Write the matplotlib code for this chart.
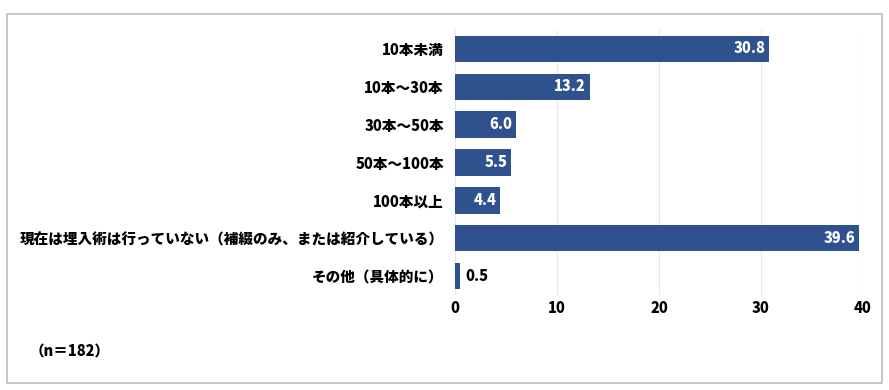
import matplotlib.pyplot as plt
from matplotlib.patches import Rectangle

plt.rcParams['font.family'] = ['Noto Sans CJK JP', 'DejaVu Sans']

categories = ['10本未満', '10本～30本', '30本～50本', '50本～100本', '100本以上',
              '現在は埋入術は行っていない（補綴のみ、または紹介している）', 'その他（具体的に）']
values = [30.8, 13.2, 6.0, 5.5, 4.4, 39.6, 0.5]
xticks = [0, 10, 20, 30, 40]
note = '（n＝182）'

BAR_COLOR = '#2F528F'
W = 'heavy'

fig = plt.figure(figsize=(8.89, 3.9), dpi=100)
ax = fig.add_axes([0.5118, 0.2436, 0.4590, 0.6794])

y = list(range(len(categories)))
ax.barh(y, values, height=0.7, color=BAR_COLOR)
ax.set_ylim(len(categories) - 0.5, -0.5)
ax.set_xlim(0, 40)

for yi, v in zip(y, values):
    if v >= 2:
        ax.text(v - 0.35, yi, f'{v:.1f}', ha='right', va='center',
                color='white', fontsize=10.5, fontweight=W)
    else:
        ax.text(v + 0.5, yi, f'{v:.1f}', ha='left', va='center',
                color='black', fontsize=10.5, fontweight=W)

ax.set_yticks(y)
ax.set_yticklabels(categories, fontsize=10.5, fontweight=W)
ax.set_xticks(xticks)
ax.set_xticklabels([str(t) for t in xticks], fontsize=10.5, fontweight=W)
ax.tick_params(length=0, pad=4)
ax.tick_params(axis='y', pad=8)
ax.grid(axis='x', color='#E8E8E8', linewidth=0.8)
ax.set_axisbelow(True)
for s in ax.spines.values():
    s.set_visible(False)

fig.text(30 / 889, 1 - 352 / 390, note, fontsize=10.5, fontweight=W,
         ha='left', va='center')

fig.patches.append(Rectangle((7 / 889, 1 - 383 / 390), 875 / 889, 369 / 390,
                             transform=fig.transFigure, fill=False,
                             edgecolor='#BBBBBB', linewidth=1.2))

fig.savefig('out.png', dpi=100)
